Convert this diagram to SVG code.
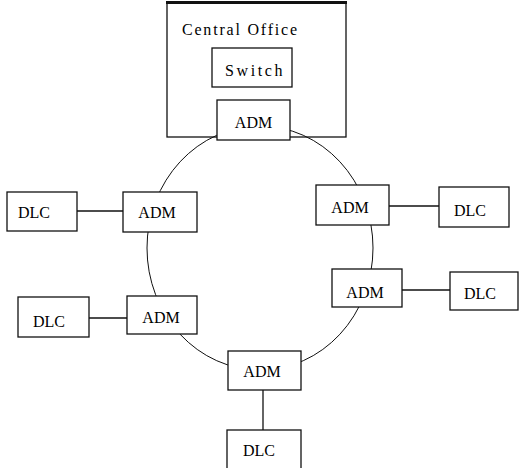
<svg xmlns="http://www.w3.org/2000/svg" width="520" height="468" viewBox="0 0 520 468">
  <style>
    .box { fill: #fff; stroke: #111; stroke-width: 1.3; }
    .frame { fill: none; stroke: #111; stroke-width: 1.3; }
    .link { fill: none; stroke: #111; stroke-width: 1.3; }
    .ring { fill: none; stroke: #111; stroke-width: 1; }
    text { font-family: "Liberation Serif", "Times New Roman", serif; font-size: 16px; fill: #000; }
    .mid { text-anchor: middle; }
  </style>
  <rect width="520" height="468" fill="#fff"/>

  <!-- Central office enclosure -->
  <g id="central-office">
    <rect class="frame" x="167" y="3" width="179" height="134"/>
    <line x1="166" y1="2.5" x2="347" y2="2.5" stroke="#111" stroke-width="3"/>
    <text x="182" y="35" letter-spacing="1.8">Central Office</text>
  </g>

  <!-- Connectors: the SONET ring and the ADM-to-DLC drops -->
  <g id="connectors">
    <ellipse class="ring" cx="260" cy="248" rx="113" ry="122"/>
    <line class="link" x1="77" y1="211" x2="123" y2="211"/>
    <line class="link" x1="89" y1="318" x2="127" y2="318"/>
    <line class="link" x1="389" y1="206" x2="439" y2="206"/>
    <line class="link" x1="402" y1="290" x2="450" y2="290"/>
    <line class="link" x1="263" y1="390" x2="263" y2="430"/>
  </g>

  <g id="switch">
    <rect class="box" x="212" y="48" width="80" height="39"/>
    <text x="225" y="76" letter-spacing="2.6">Switch</text>
  </g>

  <g id="adm-top">
    <rect class="box" x="217" y="100" width="73" height="40"/>
    <text class="mid" x="253.5" y="128">ADM</text>
  </g>

  <g id="adm-left-1">
    <rect class="box" x="123" y="192" width="74" height="40"/>
    <text class="mid" x="157" y="218">ADM</text>
  </g>
  <g id="dlc-left-1">
    <rect class="box" x="7" y="192" width="70" height="39"/>
    <text x="18" y="218">DLC</text>
  </g>

  <g id="adm-left-2">
    <rect class="box" x="127" y="296" width="70" height="38"/>
    <text class="mid" x="161" y="323">ADM</text>
  </g>
  <g id="dlc-left-2">
    <rect class="box" x="18" y="297" width="71" height="40"/>
    <text x="33" y="327">DLC</text>
  </g>

  <g id="adm-right-1">
    <rect class="box" x="316" y="185" width="73" height="40"/>
    <text class="mid" x="350" y="213">ADM</text>
  </g>
  <g id="dlc-right-1">
    <rect class="box" x="439" y="187" width="70" height="40"/>
    <text x="454" y="216">DLC</text>
  </g>

  <g id="adm-right-2">
    <rect class="box" x="332" y="269" width="70" height="38"/>
    <text class="mid" x="365" y="298">ADM</text>
  </g>
  <g id="dlc-right-2">
    <rect class="box" x="450" y="272" width="68" height="38"/>
    <text x="464" y="299">DLC</text>
  </g>

  <g id="adm-bottom">
    <rect class="box" x="228" y="351" width="73" height="39"/>
    <text class="mid" x="262" y="377">ADM</text>
  </g>
  <g id="dlc-bottom">
    <rect class="box" x="227" y="430" width="74" height="44"/>
    <text x="243" y="456">DLC</text>
  </g>
</svg>
